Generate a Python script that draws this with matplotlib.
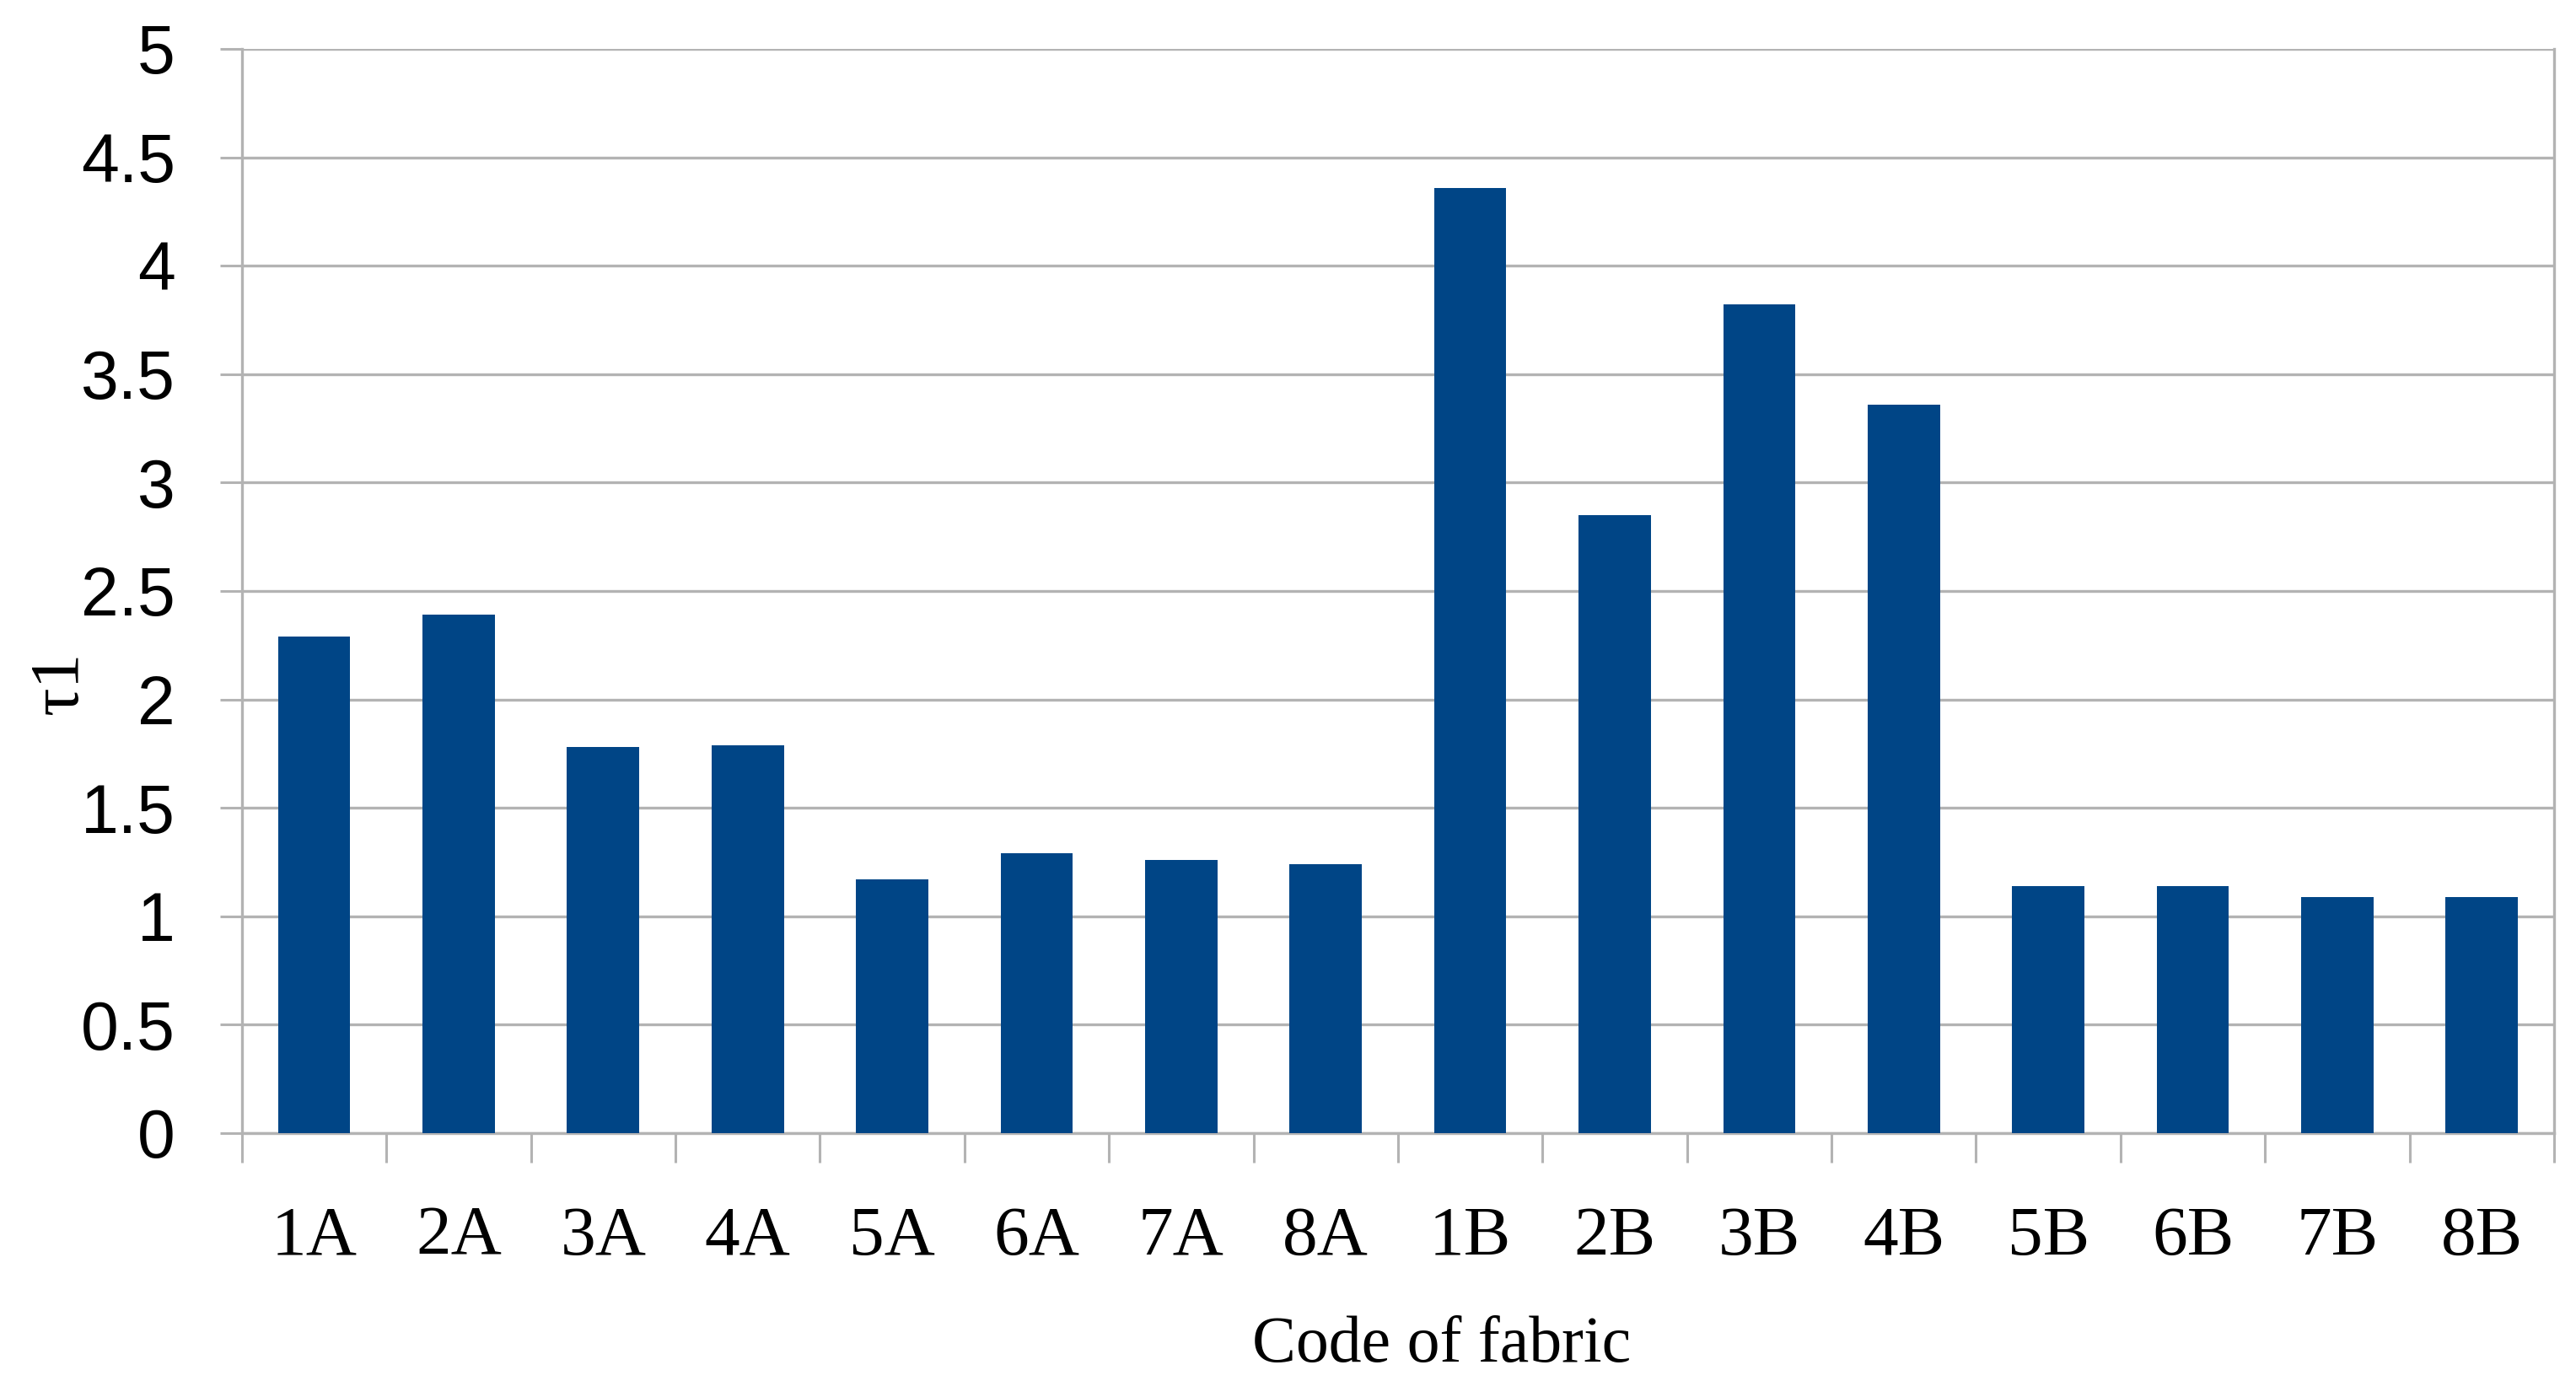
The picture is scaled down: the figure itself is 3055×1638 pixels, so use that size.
import matplotlib
matplotlib.use("Agg")
import matplotlib.pyplot as plt
import numpy as np
from matplotlib.ticker import FixedLocator

# fabric codes and tau1 values
codes = ["1A", "2A", "3A", "4A", "5A", "6A", "7A", "8A",
         "1B", "2B", "3B", "4B", "5B", "6B", "7B", "8B"]
tau1 = [2.29, 2.39, 1.78, 1.79, 1.17, 1.29, 1.26, 1.24,
        4.36, 2.85, 3.82, 3.36, 1.14, 1.14, 1.09, 1.09]
yticks = [0, 0.5, 1, 1.5, 2, 2.5, 3, 3.5, 4, 4.5, 5]

bar_color = "#004586"
grid_color = "#b3b3b3"

fig = plt.figure(figsize=(30.55, 16.38), dpi=100)
ax = fig.add_axes([0.0939, 0.1795, 0.8976, 0.7851])

x = np.arange(len(codes))
ax.bar(x, tau1, width=0.5, color=bar_color, zorder=3)

ax.set_xlim(-0.5, len(codes) - 0.5)
ax.set_ylim(0, 5)

# y axis
ax.set_yticks(yticks)
ax.set_yticklabels(["%g" % v for v in yticks],
                   family=["Liberation Sans Narrow", "Liberation Sans"])
ax.tick_params(axis="y", length=19, width=2.2, color=grid_color, pad=38,
               labelsize=58)
ax.yaxis.grid(True, color=grid_color, linewidth=2.4, zorder=0)

# x axis: labels at centres, ticks at category boundaries
ax.set_xticks(x)
ax.set_xticklabels(codes, family="Liberation Serif", fontsize=60)
ax.tick_params(axis="x", which="major", length=0, pad=62)
ax.xaxis.set_minor_locator(FixedLocator(np.arange(-0.5, len(codes), 1.0)))
ax.tick_params(axis="x", which="minor", length=25, width=2.2, color=grid_color)

for side in ["left", "bottom", "right"]:
    ax.spines[side].set_color(grid_color)
    ax.spines[side].set_linewidth(2.4)
ax.spines["top"].set_visible(False)

ax.set_xlabel("Code of fabric", family="Liberation Serif", fontsize=56)
ax.xaxis.set_label_coords(0.5187, -0.168)
ax.set_ylabel("τ1", family="Liberation Serif", fontsize=60)
ax.yaxis.set_label_coords(-0.065, 0.415)

fig.savefig("out.png", dpi=100, facecolor="white")
